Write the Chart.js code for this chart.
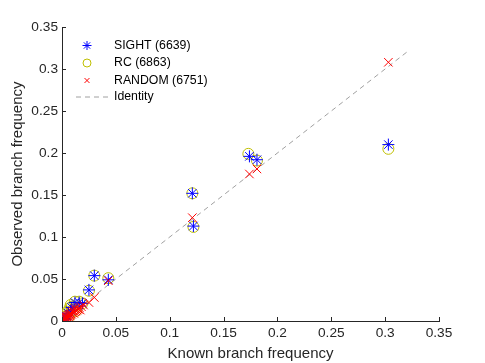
<!DOCTYPE html>
<html>
<head>
<meta charset="utf-8">
<script src="https://cdn.jsdelivr.net/npm/chart.js@4.4.1/dist/chart.umd.min.js"></script>
<style>
html,body{margin:0;padding:0;background:#fff;}
#wrap{width:485px;height:363px;position:relative;}
</style>
</head>
<body>
<div id="wrap"><canvas id="c" width="485" height="363"></canvas></div>
<script>
// ---- data ----
const sightX = [0.303,0.174,0.181,0.121,0.122,0.043,0.030,0.025,0.016,0.012,0.019,0.009,0.006,0.004,0.002,0.001,0.008,0.003];
const sightY = [0.210,0.196,0.192,0.152,0.113,0.049,0.054,0.037,0.022,0.022,0.021,0.016,0.009,0.006,0.003,0.001,0.012,0.002];

const rcX = [0.303,0.173,0.181,0.121,0.122,0.043,0.030,0.025,0.016,0.012,0.019,0.009,0.007,0.005,0.004,0.002,0.001,0.000,0.010,0.006,0.003,0.013,0.008];
const rcY = [0.205,0.199,0.191,0.152,0.112,0.051,0.054,0.036,0.023,0.023,0.021,0.017,0.015,0.011,0.008,0.005,0.002,0.000,0.013,0.004,0.001,0.012,0.019];

const randX = [0.303,0.174,0.181,0.121,0.043,0.030,0.025,0.000,0.001,0.002,0.002,0.003,0.003,0.004,0.004,0.005,0.005,0.006,0.006,0.007,0.007,0.008,0.008,0.009,0.010,0.011,0.012,0.013,0.014,0.015,0.016,0.018,0.020,0.001,0.003,0.010,0.012,0.017];
const randY = [0.308,0.175,0.181,0.123,0.048,0.028,0.022,0.000,0.001,0.001,0.003,0.002,0.004,0.003,0.005,0.004,0.006,0.005,0.007,0.006,0.008,0.007,0.009,0.008,0.010,0.009,0.011,0.012,0.013,0.014,0.016,0.017,0.019,0.003,0.006,0.012,0.015,0.013];

const identityX = [0, 0.322];
const identityY = [0, 0.322];

const seriesLabels = ['SIGHT (6639)','RC (6863)','RANDOM (6751)','Identity'];
const tickValues = [0,0.05,0.1,0.15,0.2,0.25,0.3,0.35];
const tickLabels = ['0','0.05','0.1','0.15','0.2','0.25','0.3','0.35'];
const xTitle = 'Known branch frequency';
const yTitle = 'Observed branch frequency';

const pts = (xs, ys) => xs.map((x, i) => ({x: x, y: ys[i]}));

const AX = '#262626';
const FONT = '"Liberation Sans", Arial, Helvetica, sans-serif';

const styles = [
  {color:'#0000ff', pointStyle:'star', radius:6},
  {color:'#bfbf00', pointStyle:'circle', radius:5.5},
  {color:'#ff0000', pointStyle:'crossRot', radius:6},
];
const legendRadius = [4.5, 4, 3.5];

// custom legend (inside plot area, top-left) + inward ticks
const matlabPlugin = {
  id: 'matlab',
  afterDatasetsDraw(chart) {
    const ctx = chart.ctx;
    const xs = chart.scales.x, ys = chart.scales.y;
    const ca = chart.chartArea;
    ctx.save();
    // inward ticks
    ctx.strokeStyle = AX;
    ctx.lineWidth = 1;
    ctx.beginPath();
    tickValues.forEach(v => {
      const px = Math.round(xs.getPixelForValue(v)) + 0.5;
      ctx.moveTo(px, ca.bottom); ctx.lineTo(px, ca.bottom - 4);
      const py = Math.round(ys.getPixelForValue(v)) + 0.5;
      ctx.moveTo(ca.left, py); ctx.lineTo(ca.left + 4, py);
    });
    ctx.stroke();

    // legend
    const mx = 87, tx = 114;
    const rowsY = [45.5, 63, 80.5, 97];
    ctx.font = '12.3px ' + FONT;
    ctx.textBaseline = 'middle';
    ctx.textAlign = 'left';
    for (let i = 0; i < 3; i++) {
      const s = styles[i];
      ctx.strokeStyle = s.color;
      ctx.fillStyle = 'rgba(0,0,0,0)';
      ctx.lineWidth = 1;
      Chart.helpers.drawPoint(ctx, {pointStyle: s.pointStyle, radius: legendRadius[i], rotation: 0, borderWidth: 1}, mx, rowsY[i]);
      ctx.fillStyle = '#000';
      ctx.fillText(seriesLabels[i], tx, rowsY[i]);
    }
    ctx.strokeStyle = '#a0a0a0';
    ctx.setLineDash([5, 4]);
    ctx.beginPath();
    ctx.moveTo(76, rowsY[3]); ctx.lineTo(111, rowsY[3]);
    ctx.stroke();
    ctx.setLineDash([]);
    ctx.fillStyle = '#000';
    ctx.fillText(seriesLabels[3], tx, rowsY[3]);
    ctx.restore();
  }
};

const mk = (i, xs, ys, order) => ({
  label: seriesLabels[i],
  data: pts(xs, ys),
  showLine: false,
  pointStyle: styles[i].pointStyle,
  pointRadius: styles[i].radius,
  pointHoverRadius: styles[i].radius,
  pointBorderColor: styles[i].color,
  pointBackgroundColor: 'rgba(0,0,0,0)',
  pointBorderWidth: 1,
  borderColor: styles[i].color,
  order: order
});

new Chart(document.getElementById('c'), {
  type: 'scatter',
  data: {
    datasets: [
      mk(0, sightX, sightY, 2),
      mk(1, rcX, rcY, 3),
      mk(2, randX, randY, 1),
      {
        label: seriesLabels[3],
        type: 'line',
        data: pts(identityX, identityY),
        showLine: true,
        pointRadius: 0,
        borderColor: '#a0a0a0',
        borderWidth: 1,
        borderDash: [5, 4],
        fill: false,
        order: 4
      }
    ]
  },
  options: {
    responsive: false,
    animation: false,
    devicePixelRatio: 1,
    layout: {padding: {left: 0, top: 27, right: 46, bottom: 0}},
    plugins: {legend: {display: false}, tooltip: {enabled: false}},
    scales: {
      x: {
        type: 'linear', min: 0, max: 0.35,
        afterBuildTicks: s => { s.ticks = tickValues.map(v => ({value: v})); },
        afterFit: s => { s.height = 42; },
        ticks: {
          callback: (v, i) => tickLabels[i],
          color: AX, font: {family: FONT, size: 13.7}, padding: 4, maxRotation: 0, autoSkip: false
        },
        grid: {display: false, drawTicks: false},
        border: {display: true, color: AX, width: 1},
        title: {display: true, text: xTitle, color: AX, font: {family: FONT, size: 15}, padding: {top: 0, bottom: 0}}
      },
      y: {
        type: 'linear', min: 0, max: 0.35,
        afterBuildTicks: s => { s.ticks = tickValues.map(v => ({value: v})); },
        afterFit: s => { s.width = 62; },
        ticks: {
          callback: (v, i) => tickLabels[i],
          color: AX, font: {family: FONT, size: 13.7}, padding: 4, autoSkip: false
        },
        grid: {display: false, drawTicks: false},
        border: {display: true, color: AX, width: 1},
        title: {display: true, text: yTitle, color: AX, font: {family: FONT, size: 15}, padding: {top: 9, bottom: 0}}
      }
    }
  },
  plugins: [matlabPlugin]
});
</script>
</body>
</html>
